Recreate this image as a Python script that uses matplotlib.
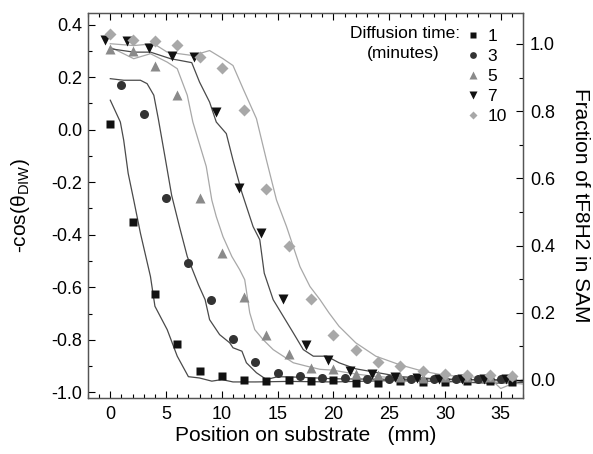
import matplotlib
matplotlib.use("Agg")
import matplotlib.pyplot as plt
from matplotlib.ticker import MultipleLocator

plt.rcParams['font.family'] = ['Liberation Sans', 'DejaVu Sans']
plt.rcParams['mathtext.fontset'] = 'custom'
plt.rcParams['mathtext.rm'] = 'Liberation Sans'
plt.rcParams['mathtext.it'] = 'Liberation Sans:italic'

# ---- marker data (position mm, -cos theta) ----
x_1 = [0, 2, 4, 6, 8, 10, 12, 14, 16, 18, 20, 22, 24, 26, 28, 30, 32, 34, 36]
y_1 = [0.023, -0.352, -0.625, -0.815, -0.919, -0.938, -0.951, -0.957, -0.953, -0.957,
       -0.951, -0.963, -0.963, -0.955, -0.960, -0.960, -0.958, -0.958, -0.960]

x_3 = [1, 3, 5, 7, 9, 11, 13, 15, 17, 19, 21, 23, 25, 27, 29, 31, 33, 35]
y_3 = [0.169, 0.061, -0.261, -0.508, -0.650, -0.796, -0.885, -0.925, -0.938, -0.944,
       -0.945, -0.950, -0.950, -0.948, -0.950, -0.950, -0.948, -0.948]

x_5 = [0, 2, 4, 6, 8, 10, 12, 14, 16, 18, 20, 22, 24, 26, 28, 30, 32, 34, 36]
y_5 = [0.308, 0.301, 0.244, 0.130, -0.259, -0.470, -0.638, -0.780, -0.852, -0.906,
       -0.912, -0.930, -0.935, -0.940, -0.945, -0.940, -0.940, -0.940, -0.935]

x_7 = [-0.5, 1.5, 3.5, 5.5, 7.5, 9.5, 11.5, 13.5, 15.5, 17.5, 19.5, 21.5, 23.5, 25.5,
       27.5, 29.5, 31.5, 33.5, 35.5]
y_7 = [0.340, 0.339, 0.312, 0.280, 0.275, 0.068, -0.223, -0.394, -0.645, -0.818,
       -0.875, -0.919, -0.928, -0.940, -0.945, -0.948, -0.948, -0.950, -0.950]

x_10 = [0, 2, 4, 6, 8, 10, 12, 14, 16, 18, 20, 22, 24, 26, 28, 30, 32, 34, 36]
y_10 = [0.363, 0.341, 0.336, 0.321, 0.275, 0.233, 0.076, -0.226, -0.442, -0.645,
        -0.780, -0.837, -0.883, -0.900, -0.919, -0.929, -0.934, -0.934, -0.938]

# ---- model curves ----
lx_1 = [0, 0.9, 1.2, 1.6, 2.1, 2.7, 3.6, 4.0, 5.1, 6.0, 7.0, 8.0, 9.1, 10, 11, 13, 16,
        20, 25, 30, 34, 37]
ly_1 = [0.112, 0.029, -0.040, -0.166, -0.268, -0.394, -0.559, -0.672, -0.761, -0.862,
        -0.940, -0.945, -0.957, -0.951, -0.960, -0.960, -0.958, -0.960, -0.955, -0.958,
        -0.965, -0.962]

lx_3 = [0, 1.2, 2.7, 3.3, 3.9, 4.3, 4.9, 5.5, 6.2, 6.9, 7.9, 8.5, 8.9, 9.8, 10.7, 11.0,
        11.8, 12.2, 13.1, 14.0, 15, 17, 20, 25, 30, 35, 37]
ly_3 = [0.194, 0.188, 0.188, 0.175, 0.131, 0.042, -0.103, -0.250, -0.369, -0.483,
        -0.590, -0.647, -0.723, -0.780, -0.811, -0.830, -0.843, -0.887, -0.925, -0.951,
        -0.940, -0.942, -0.948, -0.950, -0.950, -0.952, -0.955]

lx_5 = [0, 2.1, 3.6, 5.1, 6.0, 6.9, 7.4, 8.6, 9.1, 9.5, 10.1, 10.9, 11.6, 12.05, 12.5,
        12.95, 13.7, 14.6, 15.5, 16.4, 17.6, 18.8, 19.9, 22, 24, 26, 28, 30, 34, 37]
ly_5 = [0.314, 0.270, 0.289, 0.257, 0.232, 0.131, 0.029, -0.140, -0.268, -0.331,
        -0.407, -0.483, -0.533, -0.571, -0.697, -0.761, -0.799, -0.837, -0.862, -0.887,
        -0.900, -0.912, -0.915, -0.930, -0.940, -0.945, -0.950, -0.952, -0.958, -0.968]

lx_7 = [0, 2.1, 3.6, 5.4, 6.3, 7.3, 8.0, 8.9, 9.5, 10.4, 11.0, 11.8, 12.8, 13.4, 13.8,
        14.6, 15.5, 16.4, 17.3, 18.2, 19.4, 20.5, 22, 24, 26, 28, 30, 34, 37]
ly_7 = [0.308, 0.295, 0.295, 0.270, 0.263, 0.255, 0.181, 0.105, 0.029, -0.015,
        -0.116, -0.240, -0.369, -0.419, -0.546, -0.647, -0.710, -0.773, -0.837, -0.862,
        -0.862, -0.887, -0.910, -0.925, -0.940, -0.945, -0.950, -0.952, -0.958]

lx_10 = [0, 2.1, 3.9, 5.1, 7.4, 8.9, 10.1, 11.0, 11.9, 13.1, 14.0, 14.9, 15.8, 16.4,
         17.0, 17.9, 18.8, 19.6, 20.5, 22.0, 23.8, 25.9, 28, 30, 32, 34, 35, 37]
ly_10 = [0.327, 0.320, 0.327, 0.295, 0.282, 0.301, 0.270, 0.244, 0.156, 0.042, -0.116,
         -0.268, -0.369, -0.445, -0.521, -0.597, -0.647, -0.697, -0.748, -0.811, -0.862,
         -0.894, -0.919, -0.935, -0.940, -0.945, -0.985, -0.950]

legend_labels = ['1', '3', '5', '7', '10']

fig = plt.figure(figsize=(5.93, 4.54), dpi=100)
ax = fig.add_axes([0.1484, 0.124, 0.7336, 0.848])

dark = '#4a4a4a'
light = '#a8a8a8'
lw = 0.9
ax.plot(lx_1, ly_1, color=dark, lw=lw, zorder=2)
ax.plot(lx_3, ly_3, color=dark, lw=lw, zorder=2)
ax.plot(lx_5, ly_5, color=light, lw=lw, zorder=2)
ax.plot(lx_7, ly_7, color=dark, lw=lw, zorder=2)
ax.plot(lx_10, ly_10, color=light, lw=lw, zorder=2)

ms = 6.5
h1, = ax.plot(x_1, y_1, 's', color='#111111', ms=ms - 0.5, mec='none', zorder=3, label=legend_labels[0])
h3, = ax.plot(x_3, y_3, 'o', color='#333333', ms=ms, mec='none', zorder=3, label=legend_labels[1])
h5, = ax.plot(x_5, y_5, '^', color='#8a8a8a', ms=ms + 0.5, mec='none', zorder=3, label=legend_labels[2])
h7, = ax.plot(x_7, y_7, 'v', color='#111111', ms=ms + 0.5, mec='none', zorder=3, label=legend_labels[3])
h10, = ax.plot(x_10, y_10, 'D', color='#a8a8a8', ms=ms - 0.5, mec='none', zorder=3, label=legend_labels[4])

ax.set_xlim(-2, 37)
ax.set_ylim(-1.02, 0.445)
ax.xaxis.set_major_locator(MultipleLocator(5))
ax.xaxis.set_minor_locator(MultipleLocator(1))
ax.yaxis.set_major_locator(MultipleLocator(0.2))
ax.yaxis.set_minor_locator(MultipleLocator(0.1))
ax.yaxis.set_major_formatter(plt.FuncFormatter(lambda v, p: f'{v:.1f}'))
ax.tick_params(which='both', direction='in', top=True, right=False, labelsize=13)
ax.tick_params(axis='x', which='major', pad=6)
ax.tick_params(axis='y', which='major', pad=4)
ax.tick_params(which='major', length=5, width=0.8)
ax.tick_params(which='minor', length=3, width=0.8)
ax.set_xlabel('Position on substrate   (mm)', fontsize=15)
ax.xaxis.label.set_va('center')
ax.xaxis.set_label_coords(0.5, -0.099)
ax.set_ylabel(r'-cos($\mathregular{\theta_{DIW}}$)', fontsize=15)
ax.yaxis.label.set_va('center')
ax.yaxis.set_label_coords(-0.155, 0.5)
for s in ax.spines.values():
    s.set_color('#555555')
    s.set_linewidth(0.9)

ax2 = ax.twinx()
ax2.set_ylim(-0.053, 1.093)
ax2.yaxis.set_major_locator(MultipleLocator(0.2))
ax2.yaxis.set_minor_locator(MultipleLocator(0.1))
ax2.yaxis.set_major_formatter(plt.FuncFormatter(lambda v, p: f'{v:.1f}'))
ax2.tick_params(which='both', direction='in', labelsize=13)
ax2.tick_params(which='major', length=5, width=0.8, pad=5)
ax2.tick_params(which='minor', length=3, width=0.8)
ax2.set_ylabel('Fraction of tF8H2 in SAM', fontsize=15, rotation=270)
ax2.yaxis.label.set_va('center')
ax2.yaxis.set_label_coords(1.131, 0.5)
for s in ax2.spines.values():
    s.set_color('#555555')
    s.set_linewidth(0.9)

leg = ax.legend(handles=[h1, h3, h5, h7, h10], loc='upper right',
                bbox_to_anchor=(0.978, 0.975), frameon=False, fontsize=12.5,
                markerscale=0.75, handlelength=0.8, handletextpad=0.4,
                labelspacing=0.27, borderaxespad=0)
ax.text(0.855, 0.947, 'Diffusion time:', transform=ax.transAxes, ha='right',
        va='center', fontsize=12.5)
ax.text(0.724, 0.893, '(minutes)', transform=ax.transAxes, ha='center',
        va='center', fontsize=12.5)

fig.savefig('out.png', dpi=100)
